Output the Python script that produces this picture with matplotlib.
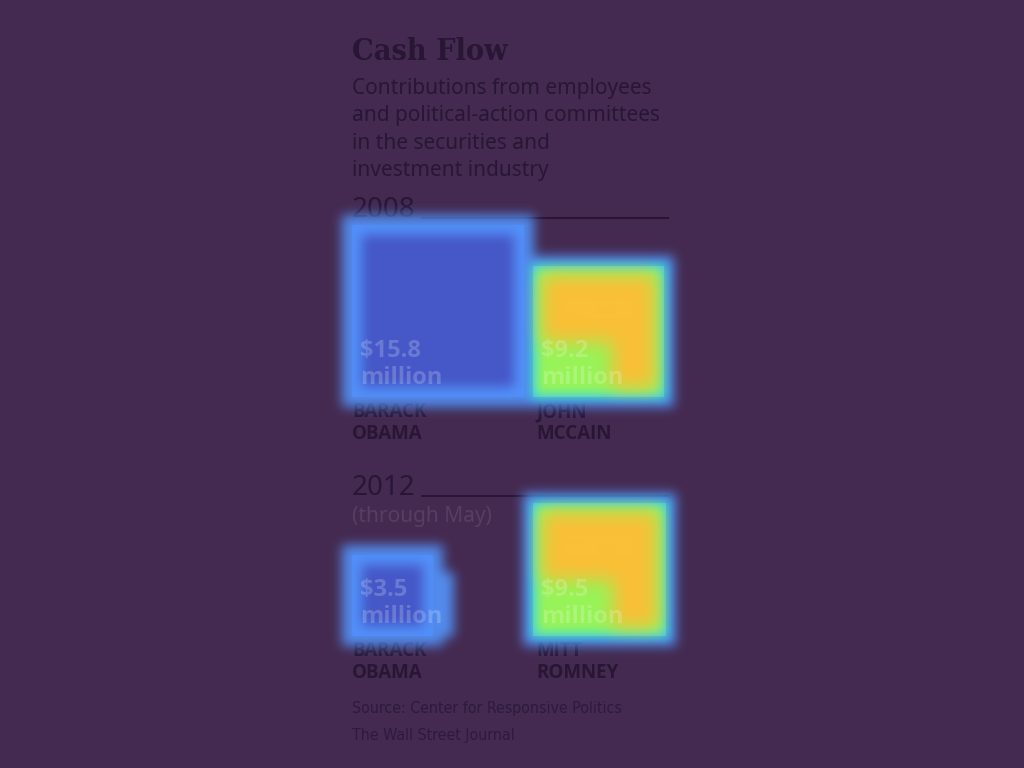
import numpy as np
import matplotlib
matplotlib.use('Agg')
import matplotlib.pyplot as plt
from matplotlib import font_manager
from matplotlib.patches import Rectangle

# data ($ million, securities & investment industry)
years = ['2008', '2012']
year_notes = ['', '(through May)']
first_names = [['BARACK', 'JOHN'], ['BARACK', 'MITT']]
last_names = [['OBAMA', 'MCCAIN'], ['OBAMA', 'ROMNEY']]
amounts = [[15.8, 9.2], [3.5, 9.5]]

title = 'Cash Flow'
subtitle = ['Contributions from employees',
            'and political-action committees',
            'in the securities and',
            'investment industry']
source = ['Source: Center for Responsive Politics', 'The Wall Street Journal']

# layout / style (pixels)
W, H = 1024, 768
BG = '#442a50'
INK = '#281634'
LEFT = 352
COL_X = [352, 533]
ROW_BOTTOM = [397, 636]
YEAR_BASE = [217, 495]
PX_PER_ROOT = 43.3          # square side = PX_PER_ROOT * sqrt(amount)
HOT = [False, True]         # overlay: right-hand squares are the hot spots
HEAT_ALPHA = 0.9

C_GLOW = np.array([84, 151, 255]) / 255
C_COOL = np.array([70, 88, 200]) / 255
C_CYAN = np.array([48, 228, 228]) / 255
C_GREEN = np.array([140, 250, 92]) / 255
C_ORANGE = np.array([250, 192, 55]) / 255


def has_font(name, bold=False, condensed=False):
    for f in font_manager.fontManager.ttflist:
        w = f.weight if isinstance(f.weight, int) else font_manager.weight_dict.get(f.weight, 400)
        if f.name == name and (w >= 600) == bold and (('condensed' in str(f.stretch)) == condensed):
            return True
    return False


def pick(cands, bold=False, condensed=False):
    for c in cands:
        if has_font(c, bold, condensed):
            return c
    return 'DejaVu Sans'


SANS = pick(['Noto Sans', 'Open Sans', 'Lato'])
SANS_B = pick(['Noto Sans', 'Open Sans', 'Lato', 'Roboto', 'Liberation Sans'], bold=True)
if has_font('Liberation Sans Narrow'):
    NARROW = dict(family='Liberation Sans Narrow')
elif has_font('DejaVu Sans', condensed=True):
    NARROW = dict(family='DejaVu Sans', fontstretch='condensed')
else:
    NARROW = dict(family=SANS)
if has_font('DejaVu Serif', bold=True, condensed=True):
    SERIF = dict(family='DejaVu Serif', weight='bold', fontstretch='condensed')
else:
    SERIF = dict(family='DejaVu Serif', weight='bold')


def box_blur(a, r, passes=3):
    # repeated box blur ~ gaussian
    for _ in range(passes):
        for axis in (0, 1):
            pad = [(0, 0), (0, 0)]
            pad[axis] = (r + 1, r)
            c = np.cumsum(np.pad(a, pad, mode='edge'), axis=axis)
            n = a.shape[axis]
            a = (np.take(c, np.arange(2 * r + 1, 2 * r + 1 + n), axis=axis)
                 - np.take(c, np.arange(n), axis=axis)) / (2 * r + 1)
    return a


fig = plt.figure(figsize=(W / 100, H / 100), dpi=100, facecolor=BG)
ax = fig.add_axes([0, 0, 1, 1])
ax.set_xlim(0, W)
ax.set_ylim(H, 0)
ax.axis('off')
ax.set_facecolor(BG)
renderer = fig.canvas.get_renderer()


def data_box(t):
    bb = t.get_window_extent(renderer).transformed(ax.transData.inverted())
    return min(bb.x0, bb.x1), min(bb.y0, bb.y1), max(bb.x0, bb.x1), max(bb.y0, bb.y1)


def fit_width(t, target):
    # shrink a text to the width it has in the original
    b = data_box(t)
    if b[2] - b[0] > target:
        t.set_fontsize(t.get_fontsize() * target / (b[2] - b[0]))


# header
tt = ax.text(LEFT, 60, title, fontsize=23, color=INK, va='baseline', zorder=2, **SERIF)
fit_width(tt, 156)
for i, line in enumerate(subtitle):
    ax.text(LEFT, 94 + i * 27.3, line, fontsize=15, family=SANS,
            color=INK, va='baseline', zorder=2)

squares = []
for r, year in enumerate(years):
    yt = ax.text(LEFT, YEAR_BASE[r], year, fontsize=20, family=SANS,
                 color=INK, va='baseline', zorder=2)
    x0, y0, x1, y1 = data_box(yt)
    ax.plot([x1 + 6, 668], [YEAR_BASE[r] + 0.5] * 2, color=INK, lw=1.5, zorder=2)
    if year_notes[r]:
        ax.text(LEFT, YEAR_BASE[r] + 27, year_notes[r], fontsize=15,
                family=SANS, color='#563f61', va='baseline', zorder=2)

    for c in range(2):
        side = PX_PER_ROOT * np.sqrt(amounts[r][c])
        x = COL_X[c]
        top = ROW_BOTTOM[r] - side
        fill = C_ORANGE if HOT[c] else C_COOL
        ax.add_patch(Rectangle((x, top), side, side, facecolor=fill,
                               edgecolor='none', zorder=1))
        lx = x + (0 if c == 0 else 3)
        ax.text(lx, ROW_BOTTOM[r] + 20, first_names[r][c], fontsize=13.5,
                family=SANS_B, weight='bold', color=INK, va='baseline', zorder=2)
        ax.text(lx, ROW_BOTTOM[r] + 42, last_names[r][c], fontsize=13.5,
                family=SANS_B, weight='bold', color=INK, va='baseline', zorder=2)
        t1 = ax.text(x + 8, ROW_BOTTOM[r] - 40, '${:.1f}'.format(amounts[r][c]),
                     fontsize=17, family=SANS_B, weight='bold',
                     color='white', alpha=0.2, va='baseline', zorder=4)
        t2 = ax.text(x + 8, ROW_BOTTOM[r] - 13, 'million', fontsize=17,
                     family=SANS_B, weight='bold', color='white',
                     alpha=0.2, va='baseline', zorder=4)
        b1, b2 = data_box(t1), data_box(t2)
        tb = (min(b1[0], b2[0]), min(b1[1], b2[1]), max(b1[2], b2[2]), max(b1[3], b2[3]))
        squares.append((x, top, x + side, ROW_BOTTOM[r], HOT[c], tb))

for i, line in enumerate(source):
    st = ax.text(LEFT, 713 + i * 27, line, fontsize=13, color='#2e1a3c',
                 va='baseline', zorder=2, **NARROW)
    if i == 0:
        fit_width(st, 270)
        src_size = st.get_fontsize()
    else:
        st.set_fontsize(src_size)

# attention-style overlay built from the squares
yy, xx = np.mgrid[0:H, 0:W] + 0.5


def rect(x0, y0, x1, y1):
    return ((xx >= x0) & (xx < x1) & (yy >= y0) & (yy < y1)).astype(float)


glow = np.zeros((H, W))
cool = np.zeros((H, W))
cyan = np.zeros((H, W))
green = np.zeros((H, W))
orange = np.zeros((H, W))
for x0, y0, x1, y1, hot, tb in squares:
    glow = np.maximum(glow, rect(x0 - 10, y0 - 10, x1 + 10, y1 + 10))
    glow = np.maximum(glow, rect(tb[0] - 8, tb[1] - 6, tb[2] + 12, tb[3] + 8))
    if hot:
        cyan = np.maximum(cyan, rect(x0 - 2, y0 - 2, x1 + 2, y1 + 2))
        green = np.maximum(green, rect(x0 + 4, y0 + 4, x1 - 4, y1 - 4))
        side = x1 - x0
        o = rect(x0 + 9, y0 + 9, x1 - 9, y1 - 9)
        o *= 1 - rect(x0, y1 - 0.42 * side, x0 + 0.6 * side, y1)
        orange = np.maximum(orange, o)
    else:
        cool = np.maximum(cool, rect(x0 + 10, y0 + 10, x1 - 10, y1 - 10))

P = np.zeros((H, W, 3))
A = np.zeros((H, W))
for mask, col, rad in [(glow, C_GLOW, 5), (cool, C_COOL, 5), (cyan, C_CYAN, 4),
                       (green, C_GREEN, 4), (orange, C_ORANGE, 8)]:
    m = np.clip(box_blur(mask, rad), 0, 1)
    P = col[None, None, :] * m[..., None] + P * (1 - m[..., None])
    A = m + A * (1 - m)

rgba = np.zeros((H, W, 4))
rgba[..., :3] = np.where(A[..., None] > 1e-6, P / np.maximum(A[..., None], 1e-6), 0)
rgba[..., 3] = A * HEAT_ALPHA
ax.imshow(np.clip(rgba, 0, 1), extent=(0, W, H, 0), interpolation='bilinear',
          zorder=3, aspect='auto')
ax.set_xlim(0, W)
ax.set_ylim(H, 0)

fig.savefig('out.png', dpi=100, facecolor=BG)
